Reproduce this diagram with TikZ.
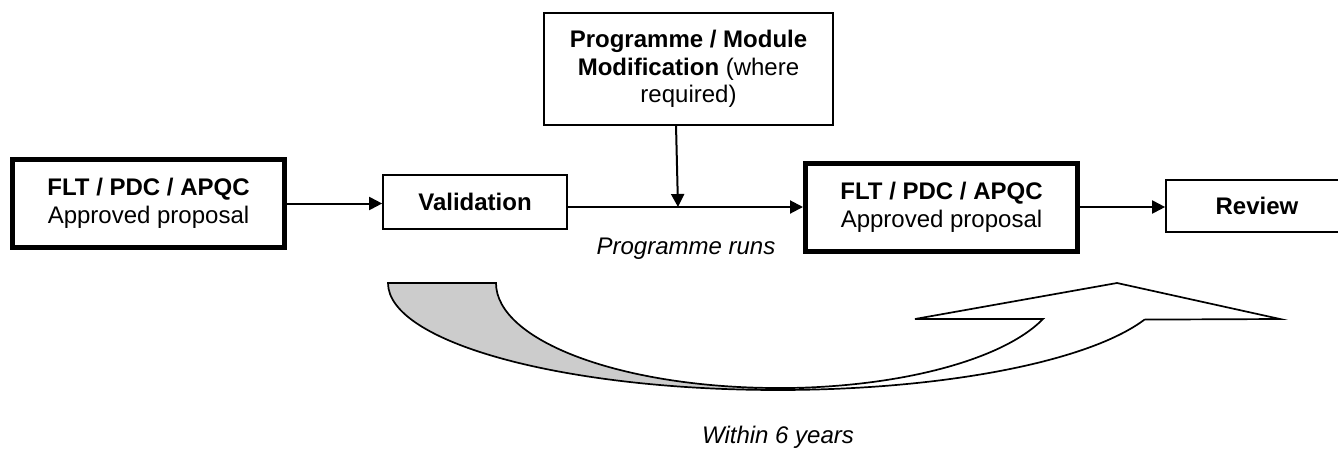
\documentclass[tikz,border=0pt]{standalone}
\usepackage{fontspec}
\setmainfont{Liberation Sans}
\usetikzlibrary{arrows.meta}
\begin{document}
\begin{tikzpicture}[x=0.5pt,y=-0.5pt,font=\fontsize{12}{13.8}\selectfont]
\tikzstyle{box}=[draw, line width=0.85pt, align=center, inner sep=0pt]
\tikzstyle{bigbox}=[box, line width=2.5pt, minimum width=136pt, minimum height=44pt]
\tikzstyle{flow}=[line width=1pt, -{Triangle[length=6.5pt,width=6.5pt]}]
\tikzstyle{band}=[draw, line width=0.85pt]
\tikzstyle{note}=[font=\fontsize{12}{13.8}\selectfont\itshape]
\useasboundingbox (0,0) rectangle (1338,450);
\coordinate (modout) at (676,125);
\coordinate (join) at (678,207);
\node[bigbox] (flt1) at (148.5,203.5) {\textbf{FLT / PDC / APQC}\\Approved proposal};
\node[box, minimum width=92pt, minimum height=27pt] (val) at (475,202) {\textbf{Validation}};
\node[box, minimum width=144.5pt, minimum height=56pt] (mod) at (688.5,69)
  {\textbf{Programme / Module}\\\textbf{Modification} (where\\required)};
\node[bigbox] (flt2) at (941.5,207) {\textbf{FLT / PDC / APQC}\\Approved proposal};
\node[box, minimum width=91pt, minimum height=26pt] (review) at (1257,206) {\textbf{Review}};
\draw[flow] (flt1.east) -- (flt1.east -| val.west);
\draw[line width=1pt] (val.east |- flt2) -- (join);
\draw[flow] (join) -- (flt2.west);
\draw[flow] (modout) -- (join);
\draw[flow] (flt2.east) -- (flt2.east -| review.west);
\node[note] (runs) at (686,249) {Programme runs};
\node[note] (years) at (778,437) {Within 6 years};
% curved arrow, back part shaded
\draw[band, fill=black!20] (388,283) arc[start angle=180, end angle=270, x radius=195pt, y radius=53.5pt]
  -- (778,388) arc[start angle=270, end angle=180, x radius=141pt, y radius=52.5pt] -- cycle;
\draw[band, fill=white] (778,390) arc[start angle=270, end angle=340, x radius=195pt, y radius=53.5pt]
  -- (1280,319) -- (1117,283) -- (915,319) -- (1043,319)
  arc[start angle=340, end angle=270, x radius=141pt, y radius=52.5pt] -- cycle;
\end{tikzpicture}
\end{document}
